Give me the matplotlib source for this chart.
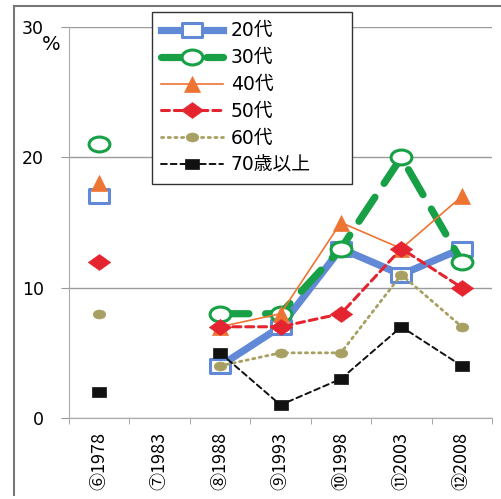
import numpy as np
import matplotlib
matplotlib.use('Agg')
import matplotlib.pyplot as plt
from matplotlib.path import Path
from matplotlib.transforms import Affine2D
from matplotlib.lines import Line2D

plt.rcParams['font.family'] = ['DejaVu Sans', 'Noto Sans CJK JP']

years = ['⑥1978', '⑦1983', '⑧1988', '⑨1993', '⑩1998', '⑪2003', '⑫2008']
nan = np.nan

age_20s = [17, nan, 4, 7, 13, 11, 13]
age_30s = [21, nan, 8, 8, 13, 20, 12]
age_40s = [18, nan, 7, 8, 15, 13, 17]
age_50s = [12, nan, 7, 7, 8, 13, 10]
age_60s = [8, nan, 4, 5, 5, 11, 7]
age_70plus = [2, nan, 5, 1, 3, 7, 4]

labels = ['20代', '30代', '40代', '50代', '60代', '70歳以上']


def wide(path, sx=1.4):
    # markers are a bit wider than tall
    return Affine2D().scale(sx, 1.0).transform_path(path)


sq = Path([(-1, -1), (1, -1), (1, 1), (-1, 1), (-1, -1)], closed=True)
circ = Path.unit_circle()
diam = Path([(0, -1), (1, 0), (0, 1), (-1, 0), (0, -1)], closed=True)

styles = [
    dict(color='#6189d6', lw=5.2, ls='-', marker=wide(sq), ms=15, mfc='white', mew=2.2),
    dict(color='#17a045', lw=5.2, ls=(0, (4.0, 2.3)), marker=wide(circ), ms=15, mfc='white', mew=2.2),
    dict(color='#ee7433', lw=1.2, ls='-', marker='^', ms=11, mfc='#ee7433', mew=0.5),
    dict(color='#e42530', lw=2.2, ls=(0, (2.6, 1.6)), marker=wide(diam), ms=16, mfc='#e42530', mew=0.5),
    dict(color='#a8a062', lw=2.0, ls=(0, (0.8, 1.6)), marker=wide(circ), ms=9, mfc='#a8a062', mew=0.5),
    dict(color='#111111', lw=1.4, ls=(0, (3, 2)), marker=wide(sq, 1.3), ms=10, mfc='#111111', mew=0.5),
]

fig = plt.figure(figsize=(5.01, 4.99), dpi=100)
ax = fig.add_axes([69 / 501, 81 / 499, 423 / 501, 391 / 499])

x = np.arange(len(years))
for vals, lab, st in zip([age_20s, age_30s, age_40s, age_50s, age_60s, age_70plus], labels, styles):
    ax.plot(x, vals, label=lab, color=st['color'], lw=st['lw'], ls=st['ls'],
            marker=st['marker'], markersize=st['ms'], markerfacecolor=st['mfc'],
            markeredgecolor=st['color'], markeredgewidth=st['mew'], dash_capstyle='round')

ax.set_xlim(-0.5, 6.5)
ax.set_ylim(0, 30)
ax.set_yticks([0, 10, 20, 30])
ax.set_xticks(x)
ax.set_xticklabels(years, rotation=90, family=['Noto Sans CJK JP', 'DejaVu Sans'], fontsize=13)
ax.set_xticks(np.arange(-0.5, 7, 1), minor=True)
ax.tick_params(axis='x', which='major', length=0, pad=10)
ax.tick_params(axis='x', which='minor', length=4, color='#999999')
ax.tick_params(axis='y', length=6, color='#999999', pad=12, labelsize=12.5)
ax.grid(axis='y', color='#9a9a9a', lw=1.0)
ax.set_axisbelow(True)
for s in ['top', 'right']:
    ax.spines[s].set_visible(False)
for s in ['left', 'bottom']:
    ax.spines[s].set_color('#aaaaaa')

fig.text(51 / 501, 1 - 44 / 499, '%', fontsize=14, ha='center', va='center')

leg = fig.legend(loc='upper left', bbox_to_anchor=(152 / 501, 1 - 12 / 499, 200 / 501, 0.0),
                 mode='expand', borderaxespad=0,
                 prop={'family': ['DejaVu Sans', 'Noto Sans CJK JP'], 'size': 13.5},
                 handlelength=3.3, handletextpad=0.4, labelspacing=0.42, borderpad=0.5,
                 fancybox=False, framealpha=1)
leg.get_frame().set_edgecolor('#333333')
leg.get_frame().set_linewidth(1.0)

# outer frame
fig.add_artist(Line2D([14 / 501, 14 / 501], [1 - 6 / 499, 1 - 495 / 499], color='#777777', lw=1.5))
fig.add_artist(Line2D([14 / 501, 1.0], [1 - 6 / 499, 1 - 6 / 499], color='#777777', lw=1.5))

fig.savefig('out.png', dpi=100)
